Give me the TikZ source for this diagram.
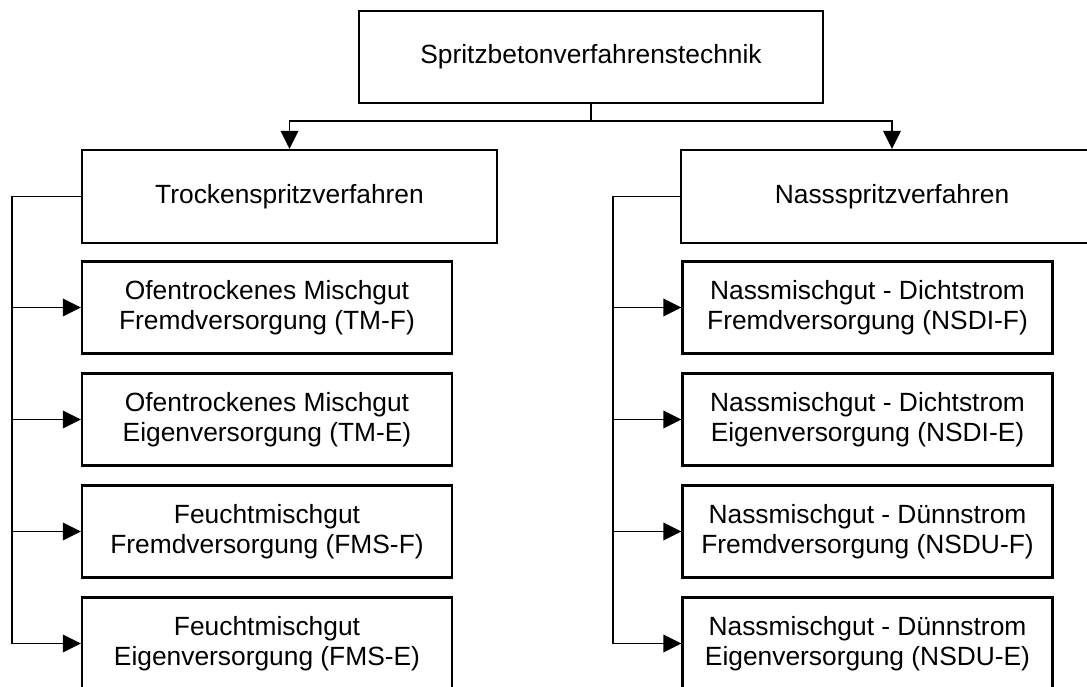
\documentclass[tikz,border=0pt]{standalone}
\usepackage{fontspec}
\setmainfont{Liberation Sans}
\usetikzlibrary{positioning, arrows.meta}

\tikzset{
    box/.style={draw, line width=1.3pt, align=center, inner sep=0pt,
        font=\fontsize{15}{16.9}\selectfont},
    mainbox/.style={box, minimum width=9.28cm, minimum height=1.84cm},
    groupbox/.style={box, minimum width=8.3cm, minimum height=1.86cm},
    itembox/.style={box, minimum width=7.4cm, minimum height=1.84cm},
    conn/.style={line width=1.1pt, -{Triangle[length=0.36cm, width=0.35cm]}}
}

\begin{document}
\begin{tikzpicture}[x=0.02cm, y=-0.02cm]
    \path[use as bounding box, clip] (0,0) rectangle (1087,686);

    \node[mainbox] (top) at (591,57) {Spritzbetonverfahrenstechnik};
    \node[groupbox] (trocken) at (289.5,196.5) {Trockenspritzverfahren};
    \node[groupbox, minimum width=8.44cm] (nass) at (892,196.5) {Nassspritzverfahren};

    \draw[conn] (top.south) -- ++(0,17) -| (trocken.north);
    \draw[conn] (top.south) -- ++(0,17) -| (nass.north);

    % Trockenspritzverfahren
    \foreach \name/\txt [count=\i] in {
            t1/{Ofentrockenes Mischgut\\Fremdversorgung (TM-F)},
            t2/{Ofentrockenes Mischgut\\Eigenversorgung (TM-E)},
            t3/{Feuchtmischgut\\Fremdversorgung (FMS-F)},
            t4/{Feuchtmischgut\\Eigenversorgung (FMS-E)}}{%
        \node[itembox] (\name) at (267,195.5+112*\i) {\txt};
        \draw[conn] (trocken.west) -- ++(-69,0) |- (\name.west);
    }

    % Nassspritzverfahren
    \foreach \name/\txt [count=\i] in {
            n1/{Nassmischgut - Dichtstrom\\Fremdversorgung (NSDI-F)},
            n2/{Nassmischgut - Dichtstrom\\Eigenversorgung (NSDI-E)},
            n3/{Nassmischgut - Dünnstrom\\Fremdversorgung (NSDU-F)},
            n4/{Nassmischgut - Dünnstrom\\Eigenversorgung (NSDU-E)}}{%
        \node[itembox] (\name) at (867.5,195.5+112*\i) {\txt};
        \draw[conn] (nass.west) -- ++(-67,0) |- (\name.west);
    }
\end{tikzpicture}
\end{document}
